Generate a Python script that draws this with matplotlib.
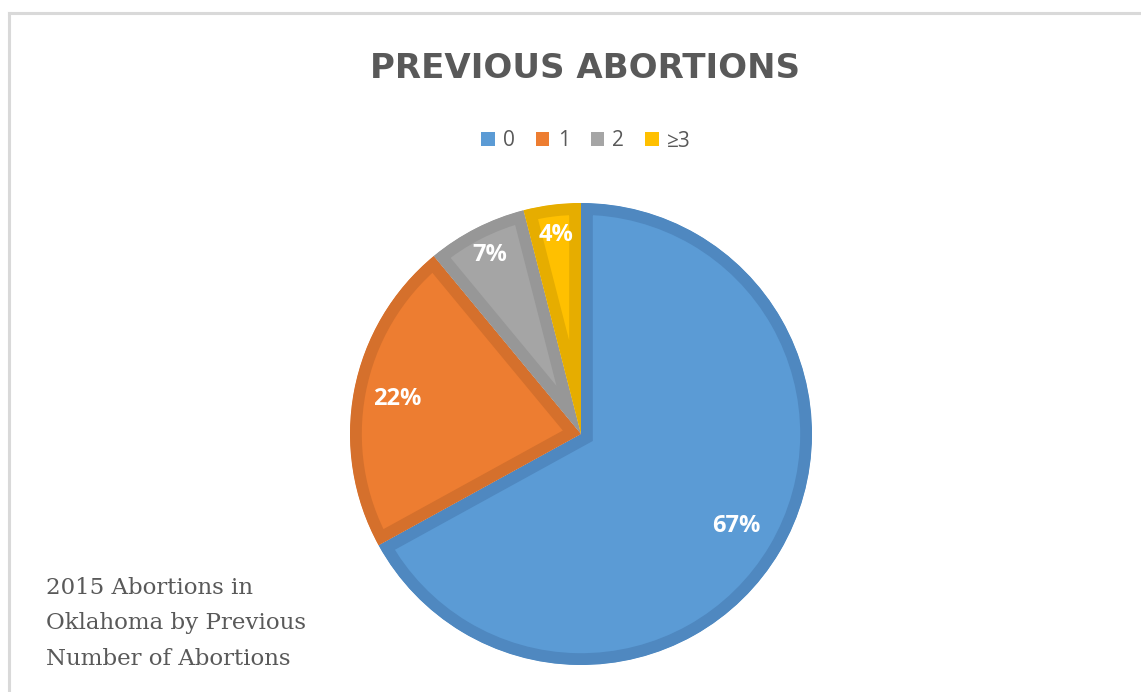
"""Pie chart of 2015 Oklahoma abortions by number of previous abortions."""

import matplotlib
matplotlib.use("Agg")
import matplotlib.pyplot as plt
from matplotlib.patches import Patch
from matplotlib.lines import Line2D
import numpy as np

# data
categories = ["0", "1", "2", "≥3"]
shares = [67, 22, 7, 4]
fill_colors = ["#5B9BD5", "#ED7D31", "#A5A5A5", "#FFC000"]
edge_colors = ["#4F88C0", "#D5702C", "#979797", "#E6AD00"]
label_dist = [0.78, 0.81, 0.87, 0.87]

W, H = 1141, 692
fig = plt.figure(figsize=(W / 100, H / 100), dpi=100)

# chart frame (only left and top edge visible in the crop)
fig.add_artist(Line2D([8.5 / W, 8.5 / W], [0, 1 - 12.5 / H], color="#d9d9d9", lw=2.2,
                      transform=fig.transFigure))
fig.add_artist(Line2D([8.5 / W, 1], [1 - 12.5 / H, 1 - 12.5 / H], color="#d9d9d9", lw=2.2,
                      transform=fig.transFigure))

# pie axes placed in pixel terms
cx, cy, r = 581, 434, 231
ax = fig.add_axes([(cx - r) / W, (H - cy - r) / H, 2 * r / W, 2 * r / H])
wedges, _ = ax.pie(shares, colors=fill_colors, startangle=90, counterclock=False,
                   radius=1.0, wedgeprops=dict(linewidth=17, joinstyle="miter"))
for w, ec in zip(wedges, edge_colors):
    w.set_edgecolor(ec)
    w.set_clip_on(True)
    w.set_clip_path(w)  # keep stroke on the inside only

# percentage labels
total = sum(shares)
start = 90.0
for val, d in zip(shares, label_dist):
    span = 360.0 * val / total
    mid = np.deg2rad(start - span / 2)
    start -= span
    ax.text(d * np.cos(mid), d * np.sin(mid), f"{val}%", ha="center", va="center",
            color="white", fontsize=17, fontweight="bold", family="Open Sans")

ax.set_xlim(-1, 1)
ax.set_ylim(-1, 1)
ax.set_aspect("equal")
ax.axis("off")

# title
fig.text(585 / W, 1 - 68 / H, "PREVIOUS ABORTIONS", ha="center", va="center",
         fontsize=24.5, fontweight="bold", color="#595959", family="DejaVu Sans")

# legend
handles = [Patch(facecolor=c, edgecolor="none") for c in fill_colors]
fig.legend(handles, categories, loc="center", bbox_to_anchor=(586 / W, 1 - 141 / H),
           ncol=4, frameon=False, handlelength=0.65, handleheight=0.65,
           handletextpad=0.4, columnspacing=1.0, labelcolor="#595959",
           prop=dict(family="Open Sans", size=15))

# caption
caption = ["2015 Abortions in", "Oklahoma by Previous", "Number of Abortions"]
for i, line in enumerate(caption):
    fig.text(46 / W, 1 - (588 + 35.5 * i) / H, line, ha="left", va="center",
             fontsize=16.5, color="#595959", family="DejaVu Serif")

fig.savefig("out.png", dpi=100)
